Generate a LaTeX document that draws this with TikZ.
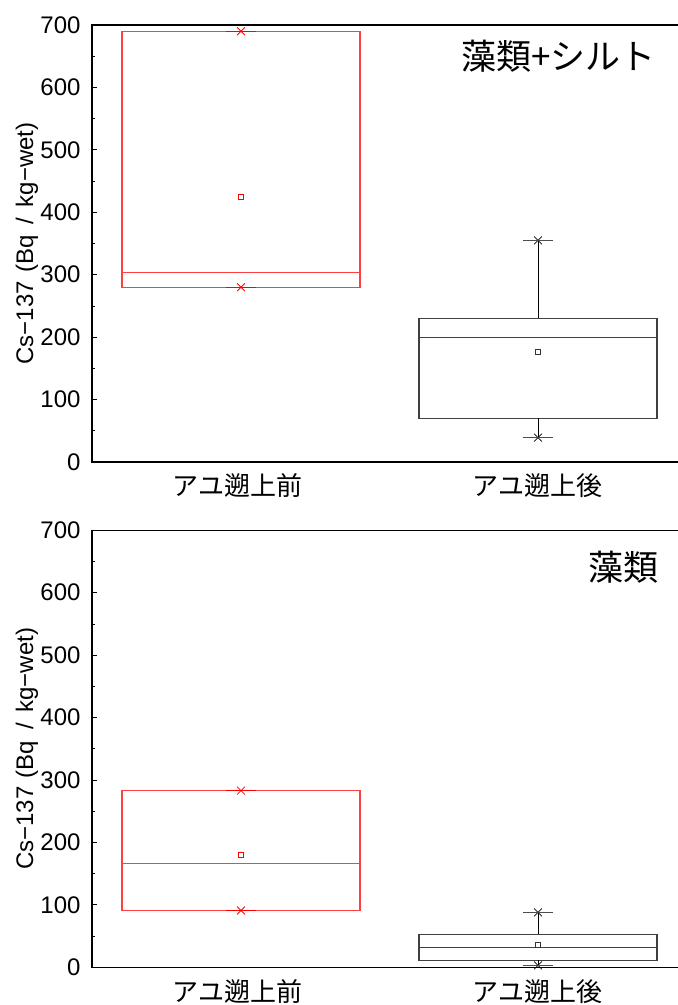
\documentclass[tikz,border=0pt]{standalone}
\usepackage{fontspec}
\setmainfont{Liberation Sans}
\newfontfamily\jpfont{Noto Sans CJK JP}
\usetikzlibrary{shapes.misc}

\begin{document}
\begin{tikzpicture}[x=1pt, y=1pt,
    axis/.style={line width=1.2pt},
    tickln/.style={line width=0.8pt},
    redbox/.style={draw=red!75, line width=1.2pt},
    blackbox/.style={draw=black!75, line width=1.2pt},
    whisk/.style={line width=0.8pt},
    whiskcap/.style={line width=1.3pt},
    xmark/.style={cross out, draw, minimum size=7pt, inner sep=0pt, line width=0.8pt},
    meanbox/.style={rectangle, draw, minimum size=5pt, inner sep=0pt, line width=0.7pt},
    ticklab/.style={anchor=east, font=\fontsize{24}{24}\selectfont},
    ylab/.style={rotate=90, font=\fontsize{24}{24}\selectfont},
    xlab/.style={font=\jpfont\fontsize{26}{26}\selectfont, yshift=-24pt},
    paneltitle/.style={anchor=east, font=\jpfont\fontsize{35}{35}\selectfont}]

  \useasboundingbox (0,0) rectangle (678,1005);

  % Upper panel: algae + silt
  \begin{scope}[shift={(92pt,543pt)}, y=0.6243pt]
    % Axes
    \draw[axis] (586,700) -- (0,700) -- (0,0) -- (586,0);
    \foreach \v in {0,100,...,700} {
      \draw[tickln] (0,\v) -- (5,\v);
      \node[ticklab] (tka\v) at (-8,\v) {\v};
    }
    \foreach \v in {50,150,...,650}
      \draw[tickln] (0,\v) -- (3,\v);

    % Before the ayu run
    \draw[redbox] (30,280) rectangle (268,690);
    \draw[redbox] (30,303) -- (268,303);
    \node[meanbox, red] (meanA) at (149,425) {};
    \node[xmark, red] (maxA) at (149,690) {};
    \node[xmark, red] (minA) at (149,280) {};
    \draw[whiskcap, red] ([xshift=-15pt]maxA.center) -- ([xshift=15pt]maxA.center);
    \draw[whiskcap, red] ([xshift=-15pt]minA.center) -- ([xshift=15pt]minA.center);

    % After the ayu run
    \draw[blackbox] (327,70) rectangle (565,230);
    \draw[blackbox] (327,200) -- (565,200);
    \coordinate (q3B) at (446,230);
    \coordinate (q1B) at (446,70);
    \node[meanbox, black!80] (meanB) at (446,176) {};
    \node[xmark] (maxB) at (446,355) {};
    \node[xmark] (minB) at (446,39) {};
    \draw[whisk] (maxB.center) -- (q3B);
    \draw[whisk] (q1B) -- (minB.center);
    \draw[whiskcap, black!70] ([xshift=-15pt]maxB.center) -- ([xshift=15pt]maxB.center);
    \draw[whiskcap, black!70] ([xshift=-15pt]minB.center) -- ([xshift=15pt]minB.center);

    % Text
    \node[ylab] (yla) at (-65,350) {Cs−137\hspace{0.35em}(Bq\hspace{0.45em}/\hspace{0.45em}kg−wet)};
    \node[xlab] (preA) at (145.5,0) {アユ遡上前};
    \node[xlab] (postA) at (445.5,0) {アユ遡上後};
    \node[paneltitle] (ttlA) at (567,650) {藻類+シルト};
  \end{scope}

  % Lower panel: algae
  \begin{scope}[shift={(92pt,37.7pt)}, y=0.6243pt]
    % Axes
    \draw[axis] (586,700) -- (0,700) -- (0,0) -- (586,0);
    \foreach \v in {0,100,...,700} {
      \draw[tickln] (0,\v) -- (5,\v);
      \node[ticklab] (tkb\v) at (-8,\v) {\v};
    }
    \foreach \v in {50,150,...,650}
      \draw[tickln] (0,\v) -- (3,\v);

    % Before the ayu run
    \draw[redbox] (30,91) rectangle (268,283);
    \draw[redbox] (30,166.5) -- (268,166.5);
    \node[meanbox, red] (meanC) at (149,180) {};
    \node[xmark, red] (maxC) at (149,283) {};
    \node[xmark, red] (minC) at (149,91) {};
    \draw[whiskcap, red] ([xshift=-15pt]maxC.center) -- ([xshift=15pt]maxC.center);
    \draw[whiskcap, red] ([xshift=-15pt]minC.center) -- ([xshift=15pt]minC.center);

    % After the ayu run
    \draw[blackbox] (327,11) rectangle (565,53);
    \draw[blackbox] (327,32) -- (565,32);
    \coordinate (q3D) at (446,53);
    \coordinate (q1D) at (446,11);
    \node[meanbox, black!80] (meanD) at (446,36) {};
    \node[xmark] (maxD) at (446,88) {};
    \node[xmark] (minD) at (446,3) {};
    \draw[whisk] (maxD.center) -- (q3D);
    \draw[whisk] (q1D) -- (minD.center);
    \draw[whiskcap, black!70] ([xshift=-15pt]maxD.center) -- ([xshift=15pt]maxD.center);
    \draw[whiskcap, black!70] ([xshift=-15pt]minD.center) -- ([xshift=15pt]minD.center);

    % Text
    \node[ylab] (ylb) at (-65,350) {Cs−137\hspace{0.35em}(Bq\hspace{0.45em}/\hspace{0.45em}kg−wet)};
    \node[xlab] (preB) at (145.5,0) {アユ遡上前};
    \node[xlab] (postB) at (445.5,0) {アユ遡上後};
    \node[paneltitle] (ttlB) at (570,641) {藻類};
  \end{scope}
\end{tikzpicture}
\end{document}
